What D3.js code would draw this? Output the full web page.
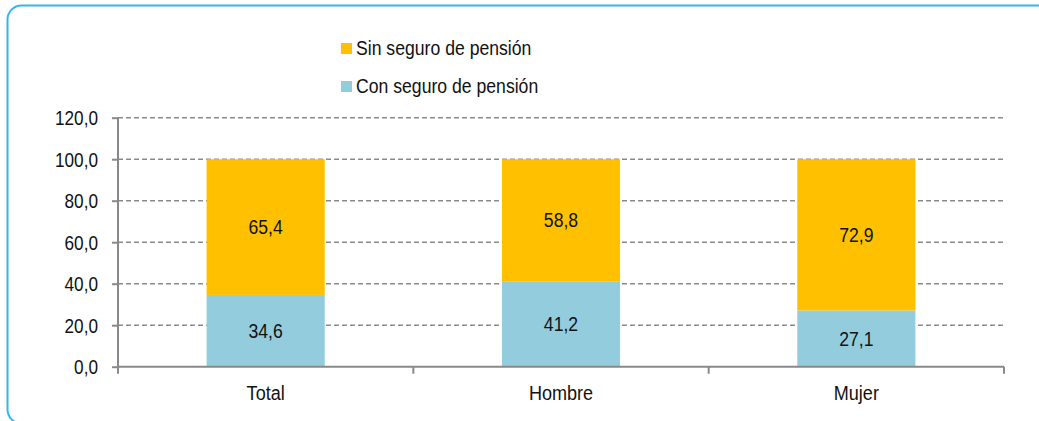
<!DOCTYPE html>
<html>
<head>
<meta charset="utf-8">
<script src="https://cdn.jsdelivr.net/npm/d3@7"></script>
<style>
  html, body { margin: 0; padding: 0; background: #fff; }
  svg text { font-family: "Liberation Sans Narrow", "Arial Narrow", "Liberation Sans", Arial, sans-serif; fill: #111; }
</style>
</head>
<body>
<svg id="chart" width="1039" height="421"></svg>
<script>
const categories = ["Total", "Hombre", "Mujer"];
const conSeguro = [34.6, 41.2, 27.1];
const sinSeguro = [65.4, 58.8, 72.9];
const seriesNames = ["Sin seguro de pensión", "Con seguro de pensión"];
const yTicks = [0, 20, 40, 60, 80, 100, 120];

const colors = { con: "#93CDDD", sin: "#FFC000" };
const svg = d3.select("#chart");
const SX = 0.86; // horizontal condensing to mimic a narrow face

function condense(sel) {
  sel.each(function () {
    const t = d3.select(this);
    const tx = +t.attr("x") || 0, ty = +t.attr("y") || 0;
    t.attr("x", 0).attr("y", 0).attr("transform", `translate(${tx},${ty}) scale(${SX},1)`);
  });
}

// border
svg.append("rect").attr("x", 7.5).attr("y", 5.5).attr("width", 1100).attr("height", 418)
  .attr("rx", 14).attr("fill", "none").attr("stroke", "#33b5ee").attr("stroke-width", 2);

const pLeft = 118, pRight = 1004, pTop = 117.7, pBottom = 366.7;
const y = d3.scaleLinear().domain([0, 120]).range([pBottom, pTop]);
const x = d3.scaleBand().domain(categories).range([pLeft, pRight]).paddingInner(0.6).paddingOuter(0.3);

const fmt = v => d3.format(".1f")(v).replace(".", ",");

// gridlines
svg.append("g").selectAll("line").data(yTicks.filter(d => d > 0)).join("line")
  .attr("x1", pLeft).attr("x2", pRight)
  .attr("y1", d => y(d)).attr("y2", d => y(d))
  .attr("stroke", "#8a8a8a").attr("stroke-width", 1.5).attr("stroke-dasharray", "5,3");

// bars
const stackData = categories.map((c, i) => ({ cat: c, con: conSeguro[i], sin: sinSeguro[i] }));
const stack = d3.stack().keys(["con", "sin"])(stackData);
const gBars = svg.append("g");
stack.forEach(layer => {
  gBars.selectAll(null).data(layer).join("rect")
    .attr("x", d => x(d.data.cat))
    .attr("width", x.bandwidth())
    .attr("y", d => y(d[1]))
    .attr("height", d => y(d[0]) - y(d[1]))
    .attr("fill", colors[layer.key]);
  gBars.selectAll(null).data(layer).join("text")
    .attr("x", d => x(d.data.cat) + x.bandwidth() / 2)
    .attr("y", d => y((d[0] + d[1]) / 2))
    .attr("text-anchor", "middle").attr("dominant-baseline", "central")
    .attr("font-size", 20.5)
    .text(d => fmt(d[1] - d[0]))
    .call(condense);
});

// y axis
const yAxis = d3.axisLeft(y).tickValues(yTicks).tickSize(6).tickPadding(14).tickFormat(fmt);
const gy = svg.append("g").attr("transform", `translate(${pLeft},0)`).call(yAxis);
gy.attr("font-family", null).attr("font-size", null);
gy.select(".domain").attr("stroke", "#898989").attr("stroke-width", 2).attr("d", `M0,${pBottom}V${pTop}`);
gy.selectAll(".tick line").attr("stroke", "#898989").attr("stroke-width", 2);
gy.selectAll(".tick text").attr("font-size", 20).attr("fill", "#111").attr("dy", null)
  .attr("dominant-baseline", "central").call(condense);

// x axis with ticks at band boundaries
const boundaries = d3.range(categories.length + 1).map(i => pLeft + i * x.step());
const gx = svg.append("g");
gx.append("line").attr("x1", pLeft).attr("x2", pRight).attr("y1", pBottom).attr("y2", pBottom)
  .attr("stroke", "#898989").attr("stroke-width", 2);
gx.selectAll(".bt").data(boundaries).join("line").attr("class", "bt")
  .attr("x1", d => d).attr("x2", d => d).attr("y1", pBottom).attr("y2", pBottom + 7)
  .attr("stroke", "#898989").attr("stroke-width", 2);
gx.selectAll("text").data(categories).join("text")
  .attr("x", d => x(d) + x.bandwidth() / 2).attr("y", 400)
  .attr("text-anchor", "middle").attr("font-size", 21).text(d => d)
  .call(condense);

// legend
const legendColors = [colors.sin, colors.con];
const gl = svg.append("g");
seriesNames.forEach((name, i) => {
  const ly = 43 + i * 38;
  gl.append("rect").attr("x", 341).attr("y", ly).attr("width", 11).attr("height", 11).attr("fill", legendColors[i]);
  gl.append("text").attr("x", 356).attr("y", ly + 5.5).attr("dominant-baseline", "central")
    .attr("font-size", 20.5).text(name).call(condense);
});
</script>
</body>
</html>
